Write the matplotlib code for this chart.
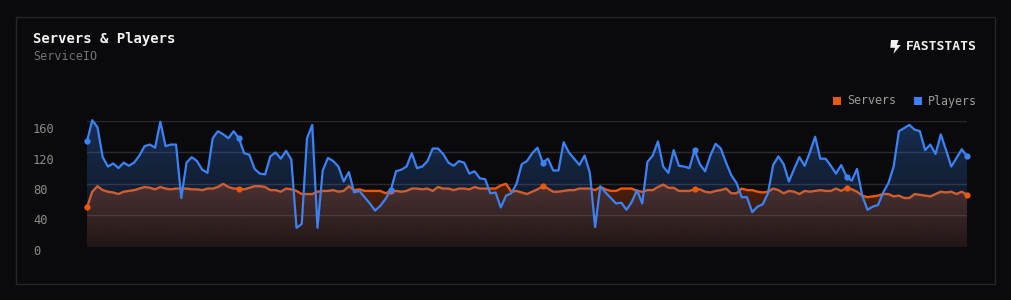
import numpy as np
import matplotlib
matplotlib.use("Agg")
import matplotlib.pyplot as plt
from matplotlib.patches import Rectangle, Polygon
from matplotlib.colors import to_rgb

# ---------------- data ----------------
title = "Servers & Players"
subtitle = "ServiceIO"
brand = "FASTSTATS"
series_names = ["Servers", "Players"]
series_colors = ["#ea580c", "#3b82f6"]
y_ticks = [0, 40, 80, 120, 160]
y_tick_labels = ["0", "40", "80", "120", "160"]

players = [
    134, 161, 152, 114, 102, 106, 100, 107, 103, 107, 116, 128, 130, 126, 159, 128, 130, 130, 62, 107,
    114, 109, 98, 94, 138, 147, 143, 138, 147, 138, 119, 117, 99, 93, 92, 115, 120, 112, 122, 111,
    24, 29, 138, 155, 24, 97, 113, 109, 102, 83, 95, 69, 71, 63, 55, 46, 52, 61, 72, 96,
    98, 102, 119, 100, 102, 109, 125, 125, 118, 107, 103, 109, 107, 93, 96, 87, 86, 68, 69, 50,
    65, 68, 80, 105, 109, 119, 126, 107, 112, 97, 97, 133, 120, 112, 104, 116, 94, 25, 77, 69,
    62, 55, 56, 47, 57, 72, 55, 108, 116, 134, 102, 94, 123, 103, 102, 100, 123, 105, 96, 116,
    131, 125, 107, 91, 81, 63, 63, 44, 51, 54, 68, 104, 115, 105, 83, 99, 114, 103, 120, 140,
    112, 112, 103, 93, 104, 89, 84, 99, 65, 47, 51, 53, 69, 81, 102, 147, 151, 155, 149, 147,
    123, 130, 118, 143, 123, 102, 113, 124, 115,
]
servers = [
    50, 70, 77, 72, 70, 69, 67, 70, 71, 72, 74, 76, 75, 73, 76, 74, 73, 74, 74, 74,
    73, 73, 72, 74, 74, 76, 80, 76, 74, 74, 73, 75, 77, 77, 76, 72, 72, 70, 74, 73,
    71, 67, 67, 67, 70, 71, 71, 72, 70, 71, 77, 72, 73, 71, 71, 71, 71, 68, 71, 71,
    70, 71, 74, 74, 73, 74, 71, 76, 74, 74, 72, 74, 74, 73, 76, 74, 74, 74, 74, 78,
    80, 70, 71, 69, 67, 70, 73, 77, 74, 70, 70, 71, 72, 72, 74, 74, 74, 72, 76, 73,
    71, 71, 74, 74, 74, 71, 70, 72, 72, 76, 79, 75, 75, 71, 71, 71, 73, 73, 70, 69,
    71, 72, 74, 68, 68, 74, 72, 72, 70, 69, 70, 74, 72, 68, 71, 70, 67, 71, 70, 71,
    72, 71, 71, 74, 71, 75, 73, 70, 65, 63, 64, 65, 67, 67, 64, 65, 62, 62, 67, 66,
    65, 64, 67, 70, 69, 70, 67, 70, 66,
]
marker_idx = [0, 29, 58, 87, 116, 145, 168]

# ---------------- figure ----------------
W, H = 1012, 300
BG = "#0a0a0c"
fig = plt.figure(figsize=(W / 100, H / 100), dpi=100)
fig.patch.set_facecolor(BG)

def fx(px):
    return px / W

def fy(py):
    return 1 - py / H

MONO = "DejaVu Sans Mono"

# card
fig.patches.append(Rectangle((fx(16.5), fy(283.5)), fx(995 - 16.5), (283.5 - 16.5) / H,
                             transform=fig.transFigure, facecolor=BG,
                             edgecolor="#26262a", lw=1, zorder=-5))

# titles
fig.text(fx(33), fy(38.5), title, fontfamily=MONO, fontweight="bold", fontsize=10,
         color="#f2f2f2", va="center", ha="left")
fig.text(fx(33), fy(56.5), subtitle, fontfamily=MONO, fontsize=8.5,
         color="#737373", va="center", ha="left")

# brand
bolt = [(891.0, 40), (898.5, 40), (896.8, 45), (900.8, 45), (893.5, 53.8),
        (895.0, 47.8), (890.3, 47.8)]
fig.patches.append(Polygon([(fx(a), fy(b)) for a, b in bolt], closed=True,
                           transform=fig.transFigure, facecolor="#f2f2f2",
                           edgecolor="none"))
fig.text(fx(906), fy(46.5), brand, fontfamily=MONO, fontweight="bold", fontsize=9.4,
         color="#f2f2f2", va="center", ha="left")

# legend
leg_x = [833.3, 914.3]
for name, col, lx in zip(series_names, series_colors, leg_x):
    fig.patches.append(Rectangle((fx(lx), fy(105)), fx(7.7), 7.7 / H,
                                 transform=fig.transFigure, facecolor=col, edgecolor="none"))
    fig.text(fx(lx + 14), fy(101), name, fontfamily=MONO, fontsize=8.4,
             color="#9c9c9c", va="center", ha="left")

# ---------------- chart ----------------
x = np.arange(len(players))
ax = fig.add_axes([fx(87), fy(246.7), fx(880), (246.7 - 121) / H])
ax.set_facecolor("none")
for s in ax.spines.values():
    s.set_visible(False)
ax.set_xticks([])
ax.set_yticks(y_ticks)
ax.set_yticklabels([])
ax.tick_params(axis="y", length=0)
ax.yaxis.grid(True, color="#2a2a2c", lw=1)
ax.set_axisbelow(True)


def gradient_area(xv, yv, color, a_top, a_bot, z):
    ymax = max(yv)
    verts = [(xv[0], 0)] + list(zip(xv, yv)) + [(xv[-1], 0)]
    poly = Polygon(verts, closed=True, facecolor="none", edgecolor="none")
    ax.add_patch(poly)
    n = 256
    img = np.zeros((n, 1, 4))
    img[:, :, :3] = to_rgb(color)
    img[:, 0, 3] = np.linspace(a_bot, a_top, n)
    im = ax.imshow(img, aspect="auto", extent=[xv[0], xv[-1], 0, ymax],
                   origin="lower", zorder=z, interpolation="bilinear")
    im.set_clip_path(poly)


# servers first, players on top
gradient_area(x, servers, series_colors[0], 0.30, 0.10, 2)
ax.plot(x, servers, color=series_colors[0], lw=1.7, zorder=3, clip_on=False,
        solid_joinstyle="round")
gradient_area(x, players, series_colors[1], 0.30, 0.05, 4)
ax.plot(x, players, color=series_colors[1], lw=1.6, zorder=5, clip_on=False,
        solid_joinstyle="round")

ax.plot(x[marker_idx], np.array(servers)[marker_idx], "o", color=series_colors[0],
        ms=4.5, mew=0, zorder=6, clip_on=False)
ax.plot(x[marker_idx], np.array(players)[marker_idx], "o", color=series_colors[1],
        ms=4.5, mew=0, zorder=6, clip_on=False)

ax.set_xlim(0, len(players) - 1)
ax.set_ylim(0, 160)

# y labels axis (labels sit slightly below the grid lines)
lab_ax = fig.add_axes([fx(87), fy(250), fx(880), (250 - 128) / H])
lab_ax.set_facecolor("none")
for s in lab_ax.spines.values():
    s.set_visible(False)
lab_ax.set_xticks([])
lab_ax.set_ylim(0, 160)
lab_ax.set_yticks(y_ticks)
lab_ax.set_yticklabels(y_tick_labels, fontfamily=MONO, fontsize=8.7, color="#8a8a8a")
lab_ax.tick_params(axis="y", length=0, pad=54 * 72 / 100)
for lab in lab_ax.get_yticklabels():
    lab.set_horizontalalignment("left")

fig.savefig("out.png", dpi=100, facecolor=BG)
